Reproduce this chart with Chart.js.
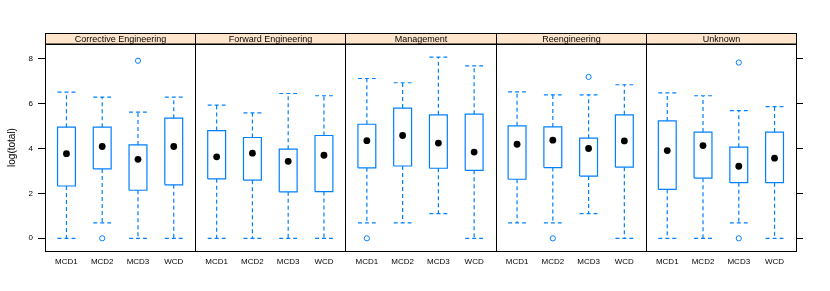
<!DOCTYPE html>
<html>
<head>
<meta charset="utf-8">
<script src="https://cdn.jsdelivr.net/npm/chart.js@4"></script>
<style>
  html, body { margin:0; padding:0; background:#fff; }
  #wrap { width:830px; height:291px; }
</style>
</head>
<body>
<div id="wrap"><canvas id="bw" width="830" height="291"></canvas></div>
<script>
// bwplot of log(total), one panel per activity type

const panels = ['Corrective Engineering', 'Forward Engineering', 'Management', 'Reengineering', 'Unknown'];
const groups = ['MCD1', 'MCD2', 'MCD3', 'WCD'];

// one row per panel, columns follow groups
const whiskerLow  = [[0, 0.69, 0, 0], [0, 0, 0, 0], [0.69, 0.69, 1.10, 0], [0.69, 0.69, 1.10, 0], [0, 0, 0.69, 0]];
const boxLow      = [[2.33, 3.09, 2.14, 2.38], [2.65, 2.59, 2.07, 2.08], [3.14, 3.22, 3.12, 3.03], [2.63, 3.15, 2.77, 3.17], [2.18, 2.68, 2.48, 2.48]];
const medians     = [[3.77, 4.09, 3.52, 4.09], [3.63, 3.79, 3.43, 3.70], [4.35, 4.58, 4.24, 3.84], [4.19, 4.37, 4.00, 4.34], [3.91, 4.13, 3.21, 3.57]];
const boxHigh     = [[4.95, 4.95, 4.16, 5.35], [4.80, 4.49, 3.97, 4.58], [5.08, 5.80, 5.50, 5.53], [5.01, 4.96, 4.46, 5.50], [5.23, 4.73, 4.06, 4.73]];
const whiskerHigh = [[6.51, 6.29, 5.62, 6.29], [5.93, 5.59, 6.45, 6.35], [7.12, 6.93, 8.07, 7.68], [6.52, 6.39, 6.39, 6.84], [6.48, 6.35, 5.69, 5.87]];
// [panel, group, value]
const outliers = [[0, 1, 0], [0, 2, 7.91], [2, 0, 0], [3, 1, 0], [3, 2, 7.19], [4, 2, 7.83], [4, 2, 0]];

const yTicks = [0, 2, 4, 6, 8];
const yMin = -0.566, yMax = 8.656;

// lattice-ish geometry: each panel spans 4.2 units on x
const PW = 4.2;
const HALF = 0.25;
const BLUE = '#0080ff';
const FONT = "'Liberation Sans', Arial, sans-serif";

function xPos(p, g){ return PW * p + 0.6 + g; }

// build line segments (gaps are null y)
const boxPts = [], whiskPts = [], medPts = [], outPts = [];
panels.forEach((name, p)=>{
  groups.forEach((gname, g)=>{
    const x = xPos(p, g);
    const lo = boxLow[p][g], hi = boxHigh[p][g];
    boxPts.push({x:x-HALF,y:lo},{x:x-HALF,y:hi},{x:x+HALF,y:hi},{x:x+HALF,y:lo},{x:x-HALF,y:lo},{x:x,y:null});
    const wl = whiskerLow[p][g], wh = whiskerHigh[p][g];
    whiskPts.push({x:x,y:hi},{x:x,y:wh},{x:x,y:null});
    whiskPts.push({x:x-HALF,y:wh},{x:x+HALF,y:wh},{x:x,y:null});
    whiskPts.push({x:x,y:lo},{x:x,y:wl},{x:x,y:null});
    whiskPts.push({x:x-HALF,y:wl},{x:x+HALF,y:wl},{x:x,y:null});
    medPts.push({x:x, y:medians[p][g]});
  });
});
outliers.forEach(o=>{ outPts.push({x:xPos(o[0], o[1]), y:o[2]}); });

const xTickVals = [];
const xTickLabels = [];
panels.forEach((n, p)=>groups.forEach((g, i)=>{ xTickVals.push(xPos(p, i)); xTickLabels.push(g); }));

// strips + panel frames
const latticePlugin = {
  id: 'lattice',
  afterDatasetsDraw(chart){
    const ctx = chart.ctx, area = chart.chartArea, xs = chart.scales.x;
    const stripTop = 33.5, stripBot = area.top;
    ctx.save();
    ctx.lineWidth = 1;
    ctx.strokeStyle = '#000';
    panels.forEach((name, p)=>{
      const l = Math.round(xs.getPixelForValue(PW * p)) + 0.5;
      const r = Math.round(xs.getPixelForValue(PW * (p + 1))) + 0.5;
      ctx.fillStyle = '#ffe5cc';
      ctx.fillRect(l, stripTop, r - l, stripBot - stripTop);
      ctx.strokeRect(l, stripTop, r - l, stripBot - stripTop);
      ctx.fillStyle = '#000';
      ctx.font = '9px ' + FONT;
      ctx.textAlign = 'center';
      ctx.textBaseline = 'middle';
      ctx.fillText(name, (l + r) / 2, (stripTop + stripBot) / 2 + 0.5);
      ctx.strokeRect(l, Math.round(area.top) + 0.5, r - l, Math.round(area.bottom - area.top));
    });
    ctx.restore();
  }
};

new Chart(document.getElementById('bw'), {
  type: 'scatter',
  data: {
    datasets: [
      { label:'box', data: boxPts, showLine:true, spanGaps:false, borderColor:BLUE, borderWidth:1.2, pointRadius:0, fill:false },
      { label:'whisker', data: whiskPts, showLine:true, spanGaps:false, borderColor:BLUE, borderWidth:1.2, borderDash:[4,3], pointRadius:0, fill:false },
      { label:'median', data: medPts, pointRadius:3.4, pointBackgroundColor:'#000', pointBorderColor:'#000', pointBorderWidth:0 },
      { label:'outlier', data: outPts, pointRadius:2.6, pointBackgroundColor:'rgba(0,0,0,0)', pointBorderColor:BLUE, pointBorderWidth:1 }
    ]
  },
  options: {
    responsive:false,
    animation:false,
    events: [],
    layout: { padding: { top:44, left:0, right:0, bottom:0 } },
    plugins: { legend:{display:false}, tooltip:{enabled:false}, title:{display:false} },
    scales: {
      x: {
        type:'linear', min:0, max:PW * panels.length,
        grid:{ display:false, drawTicks:false },
        border:{ display:false },
        afterBuildTicks: s => { s.ticks = xTickVals.map(v=>({value:v})); },
        afterFit: s => { s.height = 40; },
        ticks:{
          autoSkip:false, maxRotation:0, padding:6, color:'#000',
          font:{ family:FONT, size:8 },
          callback: (v, i) => xTickLabels[i]
        }
      },
      y: {
        type:'linear', position:'left', min:yMin, max:yMax,
        grid:{ drawOnChartArea:false, drawTicks:true, tickLength:7, color:'#000' },
        border:{ display:false },
        afterBuildTicks: s => { s.ticks = yTicks.map(v=>({value:v})); },
        afterFit: s => { s.width = 45; },
        ticks:{ padding:5, color:'#000', font:{ family:FONT, size:8 } },
        title:{ display:true, text:'log(total)', color:'#000', font:{ family:FONT, size:10 }, padding:{ top:6, bottom:0 } }
      },
      y2: {
        type:'linear', position:'right', min:yMin, max:yMax,
        grid:{ drawOnChartArea:false, drawTicks:true, tickLength:7, color:'#000' },
        border:{ display:false },
        afterBuildTicks: s => { s.ticks = yTicks.map(v=>({value:v})); },
        afterFit: s => { s.width = 34; },
        ticks:{ display:false }
      }
    }
  },
  plugins: [latticePlugin]
});
</script>
</body>
</html>
